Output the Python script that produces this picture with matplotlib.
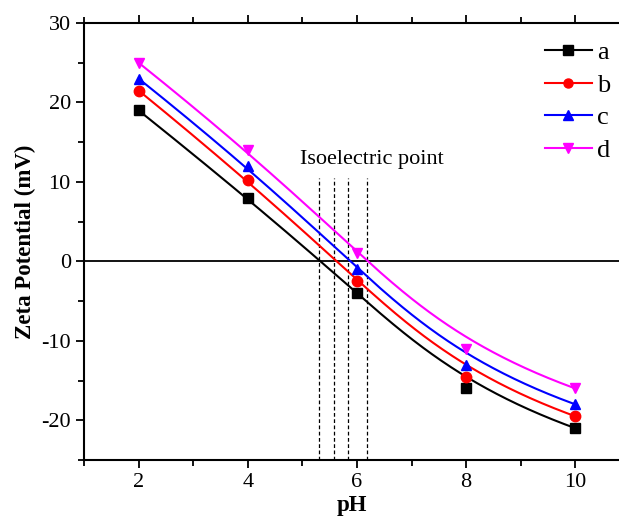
import numpy as np
import matplotlib
matplotlib.use("Agg")
import matplotlib.pyplot as plt
from matplotlib.ticker import MultipleLocator

plt.rcParams["font.family"] = ["Liberation Serif", "DejaVu Serif"]
plt.rcParams["axes.unicode_minus"] = False

ph = [2, 4, 6, 8, 10]
zeta_a = [19.0, 8.0, -4.0, -16.0, -21.0]
zeta_b = [21.5, 10.3, -2.5, -14.5, -19.5]
zeta_c = [23.0, 12.0, -1.0, -13.0, -18.0]
zeta_d = [25.0, 14.0, 1.0, -11.0, -16.0]
labels = ["a", "b", "c", "d"]
iep = [5.31, 5.58, 5.84, 6.19]   # isoelectric points
iep_top = 10.5

colors = ["black", "red", "blue", "magenta"]
markers = ["s", "o", "^", "v"]


def bspline(px, py, k=3, n=300):
    # clamped B-spline using the data points as control points (Origin style)
    P = np.column_stack([px, py]).astype(float)
    m = len(P)
    inner = np.linspace(0, 1, m - k + 1)[1:-1]
    knots = np.concatenate([np.zeros(k + 1), inner, np.ones(k + 1)])
    ts = np.linspace(0, 1, n)
    ts[-1] -= 1e-9

    def basis(i, d, t):
        if d == 0:
            return ((knots[i] <= t) & (t < knots[i + 1])).astype(float)
        a = 0.0 if knots[i + d] == knots[i] else (t - knots[i]) / (knots[i + d] - knots[i]) * basis(i, d - 1, t)
        b = 0.0 if knots[i + d + 1] == knots[i + 1] else (knots[i + d + 1] - t) / (knots[i + d + 1] - knots[i + 1]) * basis(i + 1, d - 1, t)
        return a + b

    B = np.column_stack([basis(i, k, ts) for i in range(m)])
    C = B @ P
    return C[:, 0], C[:, 1]


fig = plt.figure(figsize=(6.19, 5.22), dpi=100)
ax = fig.add_axes([0.1357, 0.1188, 0.8643, 0.8372])

for ys, c, m, lab in zip([zeta_a, zeta_b, zeta_c, zeta_d], colors, markers, labels):
    cx, cy = bspline(ph, ys)
    ax.plot(cx, cy, color=c, lw=1.5, zorder=3)
    ax.plot(ph, ys, ls="none", marker=m, color=c, ms=7.5, zorder=4)
    ax.plot([], [], color=c, lw=1.5, marker=m, ms=6.5, label=lab)

ax.axhline(0, color="black", lw=1.3, zorder=2)
for x0 in iep:
    ax.plot([x0, x0], [-25, iep_top], color="black", ls=(0, (3, 2)), lw=0.9, zorder=1)
ax.text(6.28, 12.8, "Isoelectric point", fontsize=16, ha="center", va="center")

ax.set_xlim(1, 10.8)
ax.set_ylim(-25, 30)
ax.xaxis.set_major_locator(MultipleLocator(2))
ax.xaxis.set_minor_locator(MultipleLocator(1))
ax.yaxis.set_major_locator(MultipleLocator(10))
ax.yaxis.set_minor_locator(MultipleLocator(5))
ax.tick_params(which="both", direction="out", top=True, labelsize=16, width=1.3)
ax.tick_params(which="major", length=6)
ax.tick_params(which="minor", length=4)
ax.spines["right"].set_visible(False)
for s in ["left", "top", "bottom"]:
    ax.spines[s].set_linewidth(1.5)

ax.set_xlabel("pH", fontsize=16.5, fontweight="bold", labelpad=2)
ax.set_ylabel("Zeta Potential (mV)", fontsize=16.5, fontweight="bold", labelpad=4)

ax.legend(loc="upper left", bbox_to_anchor=(0.880, 0.922), frameon=False,
          fontsize=19, handlelength=1.78, handletextpad=0.2, labelspacing=0.345,
          borderpad=0, borderaxespad=0, bbox_transform=fig.transFigure)

fig.savefig("out.png", dpi=100)
